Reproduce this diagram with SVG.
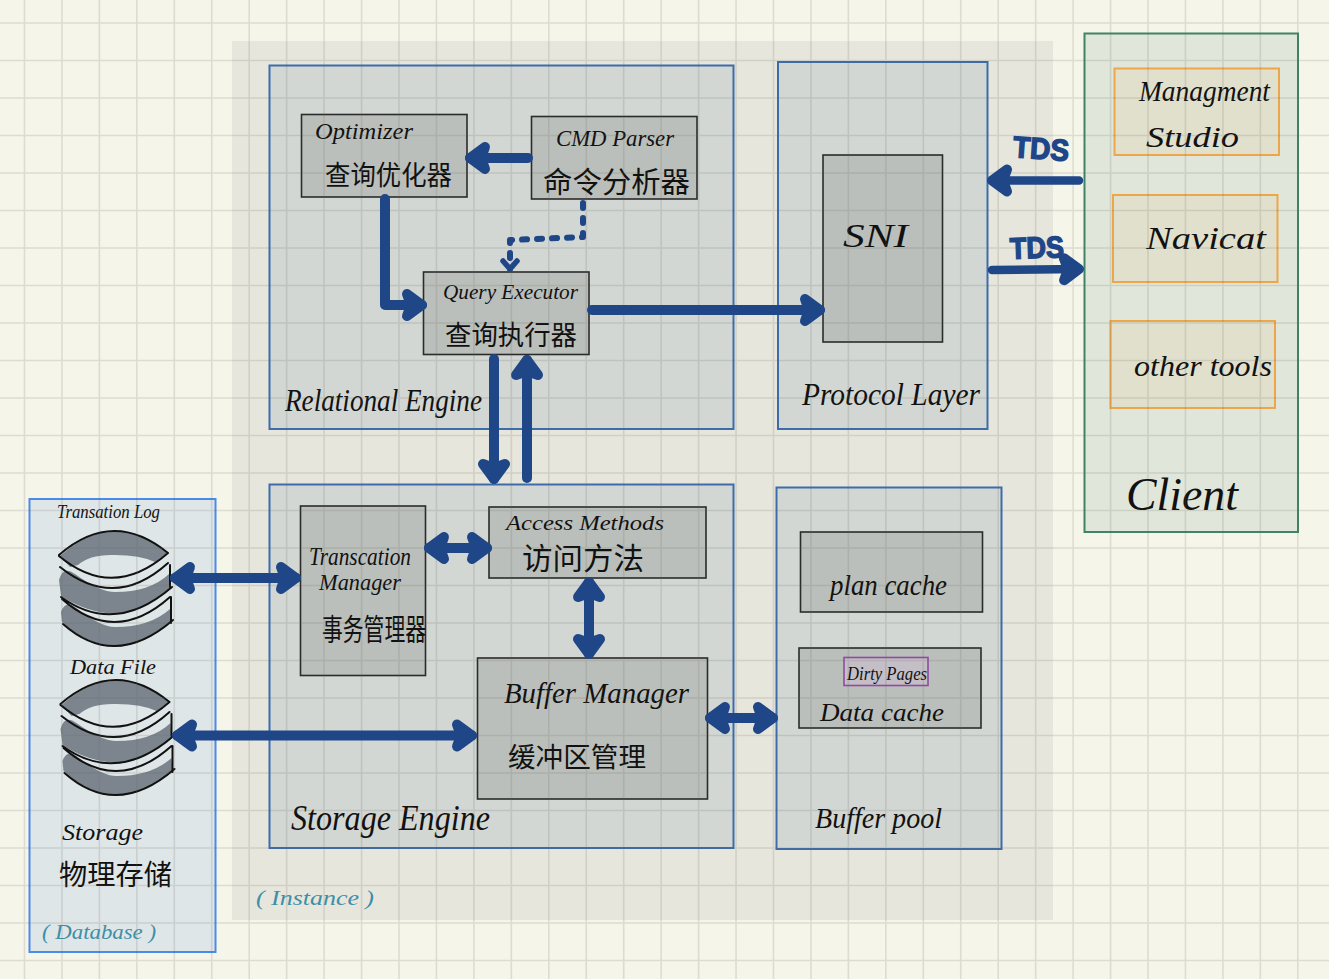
<svg xmlns="http://www.w3.org/2000/svg" width="1329" height="979" viewBox="0 0 1329 979">
<style>
.bg{fill:#f5f5ea}
.inst{fill:#e6e6dd}
.layer{fill:#d2d7d4;stroke:#3d6cab;stroke-width:2}
.comp{fill:#bbbfbb;stroke:#2b2b2b;stroke-width:1.6}
.tool{fill:#e1e0cc;stroke:#eda64a;stroke-width:2}
.grid{stroke:#64645a;stroke-opacity:.17;stroke-width:1.6;fill:none}
text{font-family:"Liberation Serif","Noto Sans CJK SC",serif;font-style:italic;fill:#111}
.zh{font-family:"Noto Sans CJK SC","Liberation Sans",sans-serif;font-style:normal;font-weight:400}
.note{fill:#3d8fa8}
.tds{font-family:"Liberation Sans",sans-serif;font-style:normal;font-weight:700;fill:#1f4788;stroke:#1f4788;stroke-width:1.5}
.conn{fill:none;stroke:#1f4788;stroke-width:10;stroke-linecap:round;stroke-linejoin:round}
.dots{stroke-width:6;stroke-dasharray:5 10}
.thin{stroke-width:8.500}
.barrel{fill:#7c858e}
.ink{fill:none;stroke:#111;stroke-width:2;stroke-linecap:round}
</style>
<defs>
<marker id="head" markerUnits="userSpaceOnUse" markerWidth="34" markerHeight="38" refX="24" refY="19" orient="auto-start-reverse"><path d="M9 8L24 19L9 30L13 19Z" fill="#1f4788" stroke="#1f4788" stroke-width="10" stroke-linecap="round" stroke-linejoin="round"/></marker>
<marker id="headSmall" markerUnits="userSpaceOnUse" markerWidth="20" markerHeight="22" refX="13" refY="11" orient="auto"><path d="M5 4L13 11L5 18" fill="none" stroke="#1f4788" stroke-width="5.500" stroke-linecap="round" stroke-linejoin="round"/></marker>
<g id="barrel">
<path class="barrel" d="M60 556Q115 507 167 553L155 562Q140 555 115 555Q90 554 78 565L70 567Z"/>
<path class="barrel" d="M59 580Q63 565 75 574Q100 592 115 592Q150 592 169 574L170 588Q140 615 115 614Q85 612 61 596Z"/>
<path class="barrel" d="M61 612Q65 600 75 607Q100 627 115 627Q150 627 170 609L171 622Q140 648 115 646Q85 644 62 622Z"/>
<path class="ink" d="M59 555Q113 508 168 553M59 556Q113 601 168 553M60 567Q115 611 168 563M61 597Q115 636 172 587M170 565V587M62 599Q115 646 170 597M171 597V623M63 624Q115 670 173 620"/>
</g>
</defs>
<rect class="bg" width="1329" height="979"/>
<g id="instance"><rect class="inst" x="232" y="41" width="821" height="879"/><text class="note" x="256" y="905" font-size="22" textLength="118" lengthAdjust="spacingAndGlyphs">( Instance )</text></g>
<g id="relational-engine"><rect class="layer" x="269.500" y="65.500" width="464" height="363.500"/><text x="285" y="411" font-size="31" textLength="197" lengthAdjust="spacingAndGlyphs">Relational Engine</text></g>
<g id="protocol-layer"><rect class="layer" x="778" y="62" width="209.500" height="367"/><text x="802" y="405" font-size="32" textLength="178" lengthAdjust="spacingAndGlyphs">Protocol Layer</text></g>
<g id="storage-engine"><rect class="layer" x="269.500" y="484.500" width="464" height="363.500"/><text x="291" y="830" font-size="36" textLength="199" lengthAdjust="spacingAndGlyphs">Storage Engine</text></g>
<g id="buffer-pool"><rect class="layer" x="776.500" y="487.500" width="225" height="361.500"/><text x="815" y="828" font-size="30" textLength="127" lengthAdjust="spacingAndGlyphs">Buffer pool</text></g>
<g id="client"><rect x="1084.500" y="33.500" width="213.500" height="498.500" fill="#e0e6da" stroke="#3e8468" stroke-width="2"/><text x="1126" y="510" font-size="46" textLength="112" lengthAdjust="spacingAndGlyphs">Client</text></g>
<g id="database"><rect x="29.500" y="499" width="186" height="453" fill="#dfe6e7" stroke="#4a8ae8" stroke-width="2"/><text x="62" y="840" font-size="24" textLength="81" lengthAdjust="spacingAndGlyphs">Storage</text><text class="zh" x="59" y="885" font-size="28" textLength="113" lengthAdjust="spacingAndGlyphs">物理存储</text><text class="note" x="42" y="939" font-size="22" textLength="114" lengthAdjust="spacingAndGlyphs">( Database )</text></g>
<g id="transaction-log"><use href="#barrel"/><text x="57" y="518" font-size="18" textLength="103" lengthAdjust="spacingAndGlyphs">Transation Log</text></g>
<g id="data-file"><use href="#barrel" x="1.500" y="149"/><text x="70" y="674" font-size="20" textLength="86" lengthAdjust="spacingAndGlyphs">Data File</text></g>
<g id="optimizer"><rect class="comp" x="301.500" y="114.500" width="165.500" height="82.500"/><text x="315" y="139" font-size="24" textLength="98" lengthAdjust="spacingAndGlyphs">Optimizer</text><text class="zh" x="325" y="185" font-size="27" textLength="127" lengthAdjust="spacingAndGlyphs">查询优化器</text></g>
<g id="cmd-parser"><rect class="comp" x="531.500" y="116.500" width="165.500" height="82.500"/><text x="556" y="146" font-size="24" textLength="118" lengthAdjust="spacingAndGlyphs">CMD Parser</text><text class="zh" x="543" y="193" font-size="29" textLength="147" lengthAdjust="spacingAndGlyphs">命令分析器</text></g>
<g id="query-executor"><rect class="comp" x="423.500" y="272" width="165.500" height="82.500"/><text x="443" y="299" font-size="22" textLength="135" lengthAdjust="spacingAndGlyphs">Query Executor</text><text class="zh" x="445" y="345" font-size="27" textLength="132" lengthAdjust="spacingAndGlyphs">查询执行器</text></g>
<g id="sni"><rect class="comp" x="823" y="155" width="119.500" height="187"/><text x="843" y="247" font-size="34" textLength="65" lengthAdjust="spacingAndGlyphs">SNI</text></g>
<g id="transaction-manager"><rect class="comp" x="300.500" y="506" width="125" height="169.500"/><text x="309" y="565" font-size="25" textLength="102" lengthAdjust="spacingAndGlyphs">Transcation</text><text x="319" y="590" font-size="23" textLength="82" lengthAdjust="spacingAndGlyphs">Manager</text><text class="zh" x="322" y="640" font-size="30" textLength="104" lengthAdjust="spacingAndGlyphs">事务管理器</text></g>
<g id="access-methods"><rect class="comp" x="489" y="507" width="217" height="71"/><text x="506" y="530" font-size="22" textLength="158" lengthAdjust="spacingAndGlyphs">Access Methods</text><text class="zh" x="522" y="569" font-size="30" textLength="122" lengthAdjust="spacingAndGlyphs">访问方法</text></g>
<g id="buffer-manager"><rect class="comp" x="477.500" y="658" width="230" height="141"/><text x="504" y="703" font-size="30" textLength="185" lengthAdjust="spacingAndGlyphs">Buffer Manager</text><text class="zh" x="508" y="767" font-size="27" textLength="138" lengthAdjust="spacingAndGlyphs">缓冲区管理</text></g>
<g id="plan-cache"><rect class="comp" x="800.500" y="532" width="182" height="80"/><text x="830" y="595" font-size="30" textLength="117" lengthAdjust="spacingAndGlyphs">plan cache</text></g>
<g id="data-cache"><rect class="comp" x="799" y="648" width="182" height="80"/><text x="820" y="721" font-size="26" textLength="124" lengthAdjust="spacingAndGlyphs">Data cache</text></g>
<g id="dirty-pages"><rect x="844" y="657.500" width="84" height="28" fill="#c4bec6" stroke="#8f4aa3" stroke-width="1.600"/><text x="847" y="680" font-size="18" textLength="80" lengthAdjust="spacingAndGlyphs">Dirty Pages</text></g>
<g id="management-studio"><rect class="tool" x="1114.500" y="68.500" width="164.500" height="86.500"/><text x="1139" y="101" font-size="30" textLength="131" lengthAdjust="spacingAndGlyphs">Managment</text><text x="1146" y="147" font-size="30" textLength="93" lengthAdjust="spacingAndGlyphs">Studio</text></g>
<g id="navicat"><rect class="tool" x="1113" y="195" width="164.500" height="87"/><text x="1146" y="249" font-size="32" textLength="120" lengthAdjust="spacingAndGlyphs">Navicat</text></g>
<g id="other-tools"><rect class="tool" x="1110.500" y="321" width="164.500" height="87"/><text x="1134" y="376" font-size="30" textLength="138" lengthAdjust="spacingAndGlyphs">other tools</text></g>
<path class="grid" d="M24.500 0V979M61.950 0V979M99.400 0V979M136.850 0V979M174.300 0V979M211.750 0V979M249.200 0V979M286.650 0V979M324.100 0V979M361.550 0V979M399 0V979M436.450 0V979M473.900 0V979M511.350 0V979M548.800 0V979M586.250 0V979M623.700 0V979M661.150 0V979M698.600 0V979M736.050 0V979M773.500 0V979M810.950 0V979M848.400 0V979M885.850 0V979M923.300 0V979M960.750 0V979M998.200 0V979M1035.650 0V979M1073.100 0V979M1110.550 0V979M1148 0V979M1185.450 0V979M1222.900 0V979M1260.350 0V979M1297.800 0V979M0 23H1329M0 60.500H1329M0 98H1329M0 135.500H1329M0 173H1329M0 210.500H1329M0 248H1329M0 285.500H1329M0 323H1329M0 360.500H1329M0 398H1329M0 435.500H1329M0 473H1329M0 510.500H1329M0 548H1329M0 585.500H1329M0 623H1329M0 660.500H1329M0 698H1329M0 735.500H1329M0 773H1329M0 810.500H1329M0 848H1329M0 885.500H1329M0 923H1329M0 960.500H1329"/>
<g id="connectors">
<path class="conn" d="M528 158H470" marker-end="url(#head)"/>
<path class="conn" d="M385 199V305H422" marker-end="url(#head)"/>
<path class="conn dots" d="M583 203V237L510 240V269" marker-end="url(#headSmall)"/>
<path class="conn" d="M592 310H820" marker-end="url(#head)"/>
<path class="conn" d="M494 359V479" marker-end="url(#head)"/>
<path class="conn" d="M527 478V360" marker-end="url(#head)"/>
<path class="conn thin" d="M1079 180.500H992" marker-end="url(#head)"/>
<path class="conn thin" d="M992 270L1079 269" marker-end="url(#head)"/>
<path class="conn" d="M175 578H296" marker-start="url(#head)" marker-end="url(#head)"/>
<path class="conn" d="M177 735.500H472" marker-start="url(#head)" marker-end="url(#head)"/>
<path class="conn" d="M429 548H487" marker-start="url(#head)" marker-end="url(#head)"/>
<path class="conn" d="M589 582V654" marker-start="url(#head)" marker-end="url(#head)"/>
<path class="conn" d="M710 718H773" marker-start="url(#head)" marker-end="url(#head)"/>
<text class="tds" x="1013" y="159" font-size="30" textLength="56" lengthAdjust="spacingAndGlyphs" transform="rotate(4 1040 150)">TDS</text>
<text class="tds" x="1010" y="258" font-size="30" textLength="54" lengthAdjust="spacingAndGlyphs" transform="rotate(-2 1037 248)">TDS</text>
</g>
</svg>
